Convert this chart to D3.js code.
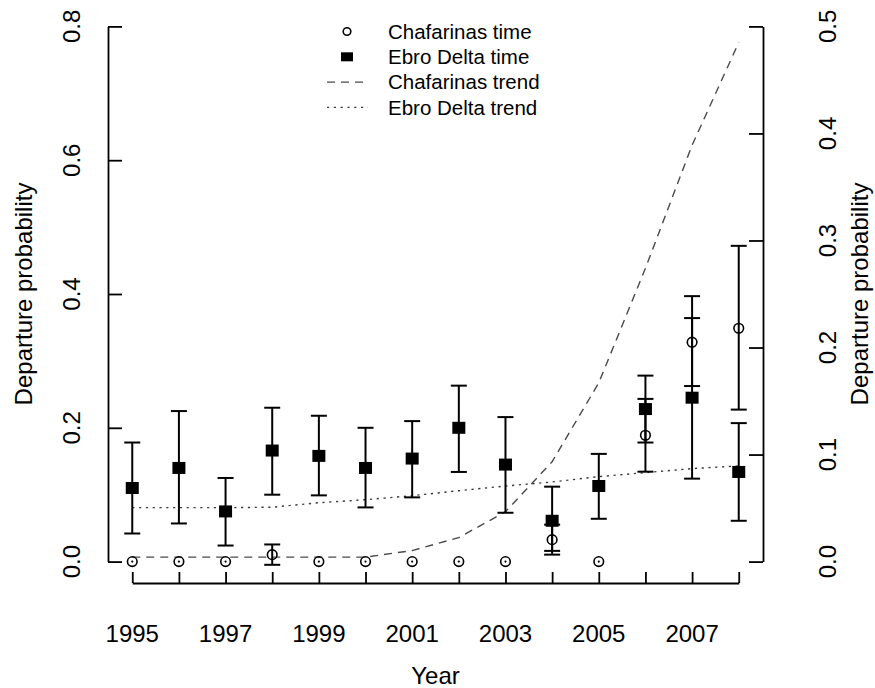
<!DOCTYPE html>
<html>
<head>
<meta charset="utf-8">
<script src="https://cdn.jsdelivr.net/npm/d3@7"></script>
<style>
  html, body { margin: 0; padding: 0; background: #fff; }
  svg { display: block; font-family: "Liberation Sans", Arial, Helvetica, sans-serif; }
</style>
</head>
<body>
<svg id="chart" width="875" height="688"></svg>
<script>
// Survey years
const years = [1995, 1996, 1997, 1998, 1999, 2000, 2001, 2002, 2003, 2004, 2005, 2006, 2007, 2008];

// Ebro Delta yearly departure probability (left axis) with interval bounds
const ebroValue = [0.110, 0.140, 0.075, 0.166, 0.158, 0.140, 0.154, 0.200, 0.145, 0.061, 0.113, 0.228, 0.245, 0.134];
const ebroUpper = [0.178, 0.225, 0.125, 0.230, 0.218, 0.200, 0.210, 0.263, 0.216, 0.112, 0.161, 0.278, 0.364, 0.207];
const ebroLower = [0.042, 0.057, 0.024, 0.100, 0.099, 0.081, 0.096, 0.134, 0.073, 0.016, 0.064, 0.178, 0.124, 0.061];

// Chafarinas yearly departure probability (right axis) with interval bounds
const chafValue = [0, 0, 0, 0.0065, 0, 0, 0, 0, 0, 0.0205, 0, 0.118, 0.205, 0.218];
const chafUpper = [0, 0, 0, 0.016, 0, 0, 0, 0, 0, 0.0345, 0, 0.152, 0.248, 0.295];
const chafLower = [0, 0, 0, -0.003, 0, 0, 0, 0, 0, 0.0065, 0, 0.084, 0.164, 0.142];

// Fitted trends
const chafTrend = [0.0042, 0.0042, 0.0042, 0.0042, 0.0042, 0.0042, 0.0103, 0.0224, 0.0466, 0.0933, 0.167, 0.274, 0.389, 0.485];
const ebroTrend = [0.0806, 0.0806, 0.0806, 0.0813, 0.088, 0.0925, 0.0985, 0.106, 0.113, 0.119, 0.127, 0.133, 0.139, 0.143];

// Axis ticks and labels
const xTicks = years;
const xTickLabels = ["1995", "", "1997", "", "1999", "", "2001", "", "2003", "", "2005", "", "2007", ""];
const leftTicks = [0, 0.2, 0.4, 0.6, 0.8];
const leftTickLabels = ["0.0", "0.2", "0.4", "0.6", "0.8"];
const rightTicks = [0, 0.1, 0.2, 0.3, 0.4, 0.5];
const rightTickLabels = ["0.0", "0.1", "0.2", "0.3", "0.4", "0.5"];

const legendLabels = ["Chafarinas time", "Ebro Delta time", "Chafarinas trend", "Ebro Delta trend"];

const svg = d3.select("#chart");

// Plot region (scales padded 4% beyond the data range on each side)
const box = { left: 108, right: 763, top: 5, bottom: 583 };
const xMin = 1995, xMax = 2008, xPad = (xMax - xMin) * 0.04;
const x = d3.scaleLinear().domain([xMin - xPad, xMax + xPad]).range([box.left, box.right]);
const yL = d3.scaleLinear().domain([-0.032, 0.832]).range([box.bottom, box.top]);
const yR = d3.scaleLinear().domain([-0.02, 0.52]).range([box.bottom, box.top]);

const axisFont = 24, legendFont = 20.5;
const ink = "#000";

// ---- Axes (lines span first to last tick, ticks point inward) ----
const xAxisScale = d3.scaleLinear().domain([xMin, xMax]).range([x(xMin), x(xMax)]);
svg.append("g")
  .attr("transform", `translate(0,${box.bottom})`)
  .call(d3.axisBottom(xAxisScale).tickValues(xTicks).tickSize(-11).tickSizeOuter(0).tickFormat(""))
  .call(g => g.selectAll("path, line").attr("stroke", ink).attr("stroke-width", 1.8));

const yLAxisScale = d3.scaleLinear().domain([0, 0.8]).range([yL(0), yL(0.8)]);
svg.append("g")
  .attr("transform", `translate(${box.left},0)`)
  .call(d3.axisLeft(yLAxisScale).tickValues(leftTicks).tickSize(-14).tickSizeOuter(0).tickFormat(""))
  .call(g => g.selectAll("path, line").attr("stroke", ink).attr("stroke-width", 1.8));

const yRAxisScale = d3.scaleLinear().domain([0, 0.5]).range([yR(0), yR(0.5)]);
svg.append("g")
  .attr("transform", `translate(${box.right},0)`)
  .call(d3.axisRight(yRAxisScale).tickValues(rightTicks).tickSize(-14).tickSizeOuter(0).tickFormat(""))
  .call(g => g.selectAll("path, line").attr("stroke", ink).attr("stroke-width", 1.8));

// Tick labels
svg.append("g").selectAll("text")
  .data(xTicks.map((v, i) => ({ v, t: xTickLabels[i] })).filter(d => d.t))
  .join("text")
  .attr("x", d => x(d.v)).attr("y", 642)
  .attr("text-anchor", "middle").attr("font-size", axisFont).attr("fill", ink)
  .text(d => d.t);

svg.append("g").selectAll("text")
  .data(leftTicks.map((v, i) => ({ v, t: leftTickLabels[i] })))
  .join("text")
  .attr("transform", d => `translate(80,${yL(d.v)}) rotate(-90)`)
  .attr("text-anchor", "middle").attr("font-size", axisFont).attr("fill", ink)
  .text(d => d.t);

svg.append("g").selectAll("text")
  .data(rightTicks.map((v, i) => ({ v, t: rightTickLabels[i] })))
  .join("text")
  .attr("transform", d => `translate(836,${yR(d.v)}) rotate(-90)`)
  .attr("text-anchor", "middle").attr("font-size", axisFont).attr("fill", ink)
  .text(d => d.t);

// Axis titles
const midY = (box.top + box.bottom) / 2;
svg.append("text")
  .attr("x", (box.left + box.right) / 2).attr("y", 684)
  .attr("text-anchor", "middle").attr("font-size", axisFont).attr("fill", ink)
  .text("Year");
svg.append("text")
  .attr("transform", `translate(32,${midY}) rotate(-90)`)
  .attr("text-anchor", "middle").attr("font-size", axisFont).attr("fill", ink)
  .text("Departure probability");
svg.append("text")
  .attr("transform", `translate(868,${midY}) rotate(-90)`)
  .attr("text-anchor", "middle").attr("font-size", axisFont).attr("fill", ink)
  .text("Departure probability");

// ---- Trend lines ----
const dashStyle = { color: "#4a4a4a", width: 1.4, dash: "8,6" };
const dotStyle = { color: "#3a3a3a", width: 1.4, dash: "2.2,4.6" };

svg.append("path")
  .datum(years.map((yr, i) => [yr, chafTrend[i]]))
  .attr("fill", "none").attr("stroke", dashStyle.color)
  .attr("stroke-width", dashStyle.width).attr("stroke-dasharray", dashStyle.dash)
  .attr("d", d3.line().x(d => x(d[0])).y(d => yR(d[1])));

svg.append("path")
  .datum(years.map((yr, i) => [yr, ebroTrend[i]]))
  .attr("fill", "none").attr("stroke", dotStyle.color)
  .attr("stroke-width", dotStyle.width).attr("stroke-dasharray", dotStyle.dash)
  .attr("d", d3.line().x(d => x(d[0])).y(d => yL(d[1])));

// ---- Interval bars ----
const capHalf = 8;
function drawBars(lo, hi, yScale) {
  const data = years.map((yr, i) => ({ yr, lo: lo[i], hi: hi[i] })).filter(d => d.hi !== d.lo);
  const g = svg.append("g").attr("stroke", ink).attr("stroke-width", 2);
  g.selectAll("line.stem").data(data).join("line")
    .attr("x1", d => x(d.yr)).attr("x2", d => x(d.yr))
    .attr("y1", d => yScale(d.lo)).attr("y2", d => yScale(d.hi));
  g.selectAll("line.capHi").data(data).join("line")
    .attr("x1", d => x(d.yr) - capHalf).attr("x2", d => x(d.yr) + capHalf)
    .attr("y1", d => yScale(d.hi)).attr("y2", d => yScale(d.hi));
  g.selectAll("line.capLo").data(data).join("line")
    .attr("x1", d => x(d.yr) - capHalf).attr("x2", d => x(d.yr) + capHalf)
    .attr("y1", d => yScale(d.lo)).attr("y2", d => yScale(d.lo));
}
drawBars(ebroLower, ebroUpper, yL);
drawBars(chafLower, chafUpper, yR);

// ---- Points ----
const sqW = 13, sqH = 12;
svg.append("g").selectAll("rect")
  .data(years.map((yr, i) => ({ yr, v: ebroValue[i] })))
  .join("rect")
  .attr("x", d => x(d.yr) - sqW / 2).attr("y", d => yL(d.v) - sqH / 2)
  .attr("width", sqW).attr("height", sqH).attr("fill", ink);

const chafPts = years.map((yr, i) => ({ yr, v: chafValue[i], flat: chafUpper[i] === chafLower[i] }));
svg.append("g").selectAll("circle")
  .data(chafPts)
  .join("circle")
  .attr("cx", d => x(d.yr)).attr("cy", d => yR(d.v)).attr("r", 4.8)
  .attr("fill", "none").attr("stroke", ink).attr("stroke-width", 1.6);
// zero-width intervals collapse to a dot at the point centre
svg.append("g").selectAll("circle")
  .data(chafPts.filter(d => d.flat))
  .join("circle")
  .attr("cx", d => x(d.yr)).attr("cy", d => yR(d.v)).attr("r", 1.1)
  .attr("fill", ink);

// ---- Legend ----
const lg = svg.append("g");
const lgSymX = 347, lgTextX = 388, lgY0 = 31.5, lgStep = 25.3;
legendLabels.forEach((t, i) => {
  const cy = lgY0 + i * lgStep;
  lg.append("text").attr("x", lgTextX).attr("y", cy).attr("dy", "0.35em")
    .attr("font-size", legendFont).attr("fill", ink).text(t);
});
lg.append("circle").attr("cx", lgSymX).attr("cy", lgY0).attr("r", 3.8)
  .attr("fill", "none").attr("stroke", ink).attr("stroke-width", 1.6);
lg.append("rect").attr("x", lgSymX - 6).attr("y", lgY0 + lgStep - 4.5)
  .attr("width", 12).attr("height", 9).attr("fill", ink);
lg.append("line").attr("x1", 327).attr("x2", 368)
  .attr("y1", lgY0 + 2 * lgStep).attr("y2", lgY0 + 2 * lgStep)
  .attr("stroke", dashStyle.color).attr("stroke-width", dashStyle.width).attr("stroke-dasharray", dashStyle.dash);
lg.append("line").attr("x1", 327).attr("x2", 368)
  .attr("y1", lgY0 + 3 * lgStep).attr("y2", lgY0 + 3 * lgStep)
  .attr("stroke", dotStyle.color).attr("stroke-width", dotStyle.width).attr("stroke-dasharray", dotStyle.dash);
</script>
</body>
</html>
